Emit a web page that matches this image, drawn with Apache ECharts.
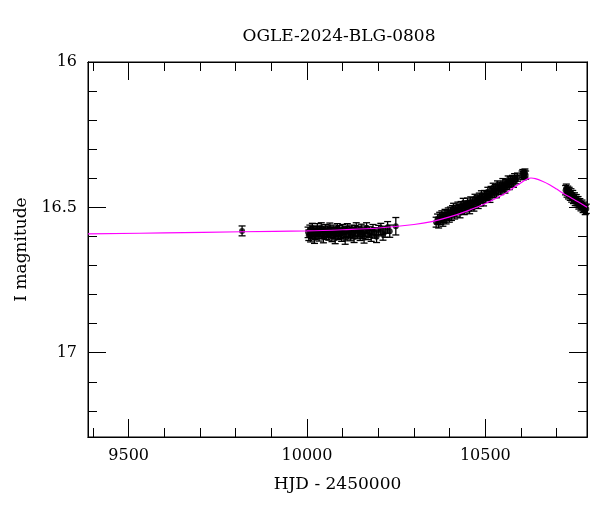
<!DOCTYPE html>
<html>
<head>
<meta charset="utf-8">
<script src="https://cdn.jsdelivr.net/npm/echarts@6/dist/echarts.min.js"></script>
<style>html,body{margin:0;padding:0;background:#fff}#c{width:600px;height:512px}</style>
</head>
<body>
<div id="c"></div>
<script>
const titleText = 'OGLE-2024-BLG-0808';
const xName = 'HJD - 2450000';
const yName = 'I magnitude';

const xMinorTicks = [9400,9500,9600,9700,9800,9900,10000,10100,10200,10300,10400,10500,10600,10700];
const xMajorTicks = [9500,10000,10500];
const yMinorTicks = [16.1,16.2,16.3,16.4,16.5,16.6,16.7,16.8,16.9,17.0,17.1,17.2];
const yMajorTicks = [16,16.5,17];

// isolated early point
const hjd0 = [9818];
const mag0 = [16.581];
const err0 = [0.017];

// 2023 season
const hjd1 = [10003,10005,10008,10010,10013,10015,10018,10021,10023,10026,10029,10031,10034,10037,10040,10043,10046,10049,10052,10055,10058,10061,10064,10067,10070,10073,10076,10079,10082,10085,10088,10091,10094,10097,10100,10104,10107,10110,10113,10116,10119,10122,10125,10129,10132,10135,10138,10142,10145,10149,10152,10156,10160,10163,10167,10171,10175,10180,10185,10190,10195,10201,10207,10213,10219,10226,10232,10249];
const mag1 = [16.586,16.596,16.578,16.601,16.590,16.572,16.584,16.605,16.593,16.581,16.574,16.590,16.598,16.583,16.570,16.589,16.603,16.585,16.576,16.592,16.582,16.595,16.571,16.587,16.600,16.579,16.588,16.606,16.584,16.574,16.593,16.580,16.589,16.599,16.577,16.586,16.608,16.583,16.573,16.591,16.585,16.597,16.578,16.588,16.602,16.581,16.570,16.590,16.583,16.596,16.576,16.589,16.604,16.582,16.571,16.593,16.585,16.598,16.577,16.588,16.601,16.580,16.574,16.592,16.584,16.569,16.582,16.565];
const err1 = [0.018,0.018,0.017,0.018,0.018,0.017,0.018,0.019,0.018,0.017,0.018,0.018,0.018,0.017,0.017,0.018,0.019,0.018,0.017,0.018,0.018,0.018,0.017,0.018,0.018,0.018,0.018,0.019,0.017,0.018,0.018,0.017,0.018,0.018,0.018,0.018,0.019,0.018,0.017,0.018,0.018,0.018,0.017,0.018,0.019,0.018,0.017,0.018,0.018,0.018,0.018,0.018,0.019,0.018,0.018,0.018,0.018,0.019,0.018,0.018,0.020,0.018,0.019,0.021,0.019,0.020,0.021,0.030];

// 2024 season
const hjd2 = [10362,10366,10369,10372,10375,10378,10381,10384,10387,10390,10393,10396,10399,10402,10405,10408,10411,10414,10417,10420,10423,10426,10429,10432,10435,10438,10441,10444,10447,10450,10453,10456,10459,10462,10465,10468,10471,10474,10477,10480,10483,10486,10489,10492,10495,10498,10501,10504,10507,10510,10513,10516,10519,10522,10525,10528,10531,10534,10537,10540,10543,10546,10549,10552,10555,10558,10561,10564,10567,10570,10573,10576,10579,10582,10586,10590,10603,10605,10607,10609,10611,10613];
const mag2 = [16.551,16.540,16.553,16.534,16.542,16.529,16.547,16.535,16.524,16.540,16.527,16.518,16.534,16.516,16.528,16.510,16.503,16.523,16.509,16.516,16.498,16.507,16.519,16.496,16.504,16.486,16.509,16.494,16.500,16.484,16.495,16.506,16.480,16.492,16.483,16.497,16.470,16.482,16.475,16.488,16.466,16.479,16.458,16.470,16.480,16.457,16.468,16.460,16.446,16.461,16.468,16.443,16.449,16.432,16.451,16.437,16.453,16.424,16.440,16.427,16.442,16.430,16.415,16.433,16.437,16.418,16.423,16.406,16.425,16.408,16.415,16.404,16.417,16.398,16.405,16.396,16.389,16.384,16.391,16.386,16.382,16.389];
const err2 = [0.017,0.017,0.018,0.017,0.017,0.017,0.018,0.017,0.017,0.017,0.017,0.016,0.017,0.017,0.017,0.016,0.017,0.017,0.016,0.017,0.016,0.016,0.017,0.016,0.016,0.017,0.016,0.016,0.016,0.016,0.016,0.016,0.016,0.016,0.016,0.016,0.015,0.016,0.015,0.016,0.015,0.016,0.015,0.015,0.015,0.015,0.015,0.015,0.015,0.015,0.015,0.015,0.015,0.015,0.015,0.015,0.014,0.015,0.014,0.014,0.014,0.014,0.014,0.014,0.014,0.014,0.014,0.014,0.014,0.014,0.014,0.014,0.014,0.014,0.014,0.014,0.014,0.014,0.014,0.014,0.014,0.014];

// 2025 season
const hjd3 = [10725,10727,10729,10731,10733,10735,10738,10740,10742,10745,10747,10750,10752,10755,10757,10760,10762,10765,10768,10771,10774,10777,10780,10783];
const mag3 = [16.441,16.436,16.449,16.443,16.455,16.447,16.460,16.452,16.466,16.458,16.471,16.466,16.478,16.472,16.484,16.479,16.490,16.486,16.496,16.491,16.502,16.498,16.509,16.505];
const err3 = [0.016,0.016,0.016,0.016,0.016,0.016,0.016,0.016,0.016,0.016,0.016,0.016,0.016,0.016,0.016,0.016,0.016,0.016,0.016,0.016,0.016,0.016,0.016,0.016];

// model curve
const modelHjd = [9386,9600,9818,10000,10100,10200,10300,10350,10400,10450,10500,10550,10580,10600,10615,10628,10640,10660,10680,10700,10720,10740,10760,10785];
const modelMag = [16.591,16.588,16.584,16.581,16.577,16.571,16.559,16.549,16.533,16.512,16.487,16.456,16.432,16.415,16.404,16.399,16.401,16.410,16.422,16.437,16.453,16.467,16.481,16.500];

const serif = 'DejaVu Serif';

function pts(h, m, e) { return h.map((t, i) => [t, m[i], e[i]]); }
const obs = [].concat(pts(hjd0, mag0, err0), pts(hjd1, mag1, err1), pts(hjd2, mag2, err2), pts(hjd3, mag3, err3));
const model = modelHjd.map((t, i) => [t, modelMag[i]]);

const xBase = {type: 'value', min: 9386, max: 10785, splitLine: {show: false}, axisLine: {show: true, onZero: false, lineStyle: {color: '#000', width: 1}}};
const yBase = {type: 'value', min: 16, max: 17.29, inverse: true, splitLine: {show: false}, axisLine: {show: true, onZero: false, lineStyle: {color: '#000', width: 1}}};

function xAx(pos, ticks, len, labels) {
  return Object.assign({}, xBase, {
    position: pos,
    axisTick: {show: true, inside: true, length: len, customValues: ticks, lineStyle: {color: '#000', width: 1}},
    axisLabel: labels ? {show: true, customValues: labels, margin: 11, color: '#000', fontFamily: serif, fontSize: 16, formatter: v => String(v)} : {show: false},
    name: labels ? xName : '',
    nameLocation: 'middle', nameGap: 39,
    nameTextStyle: {color: '#000', fontFamily: serif, fontSize: 17}
  });
}
function yAx(pos, ticks, len, labels) {
  return Object.assign({}, yBase, {
    position: pos,
    axisTick: {show: true, inside: true, length: len, customValues: ticks, lineStyle: {color: '#000', width: 1}},
    axisLabel: labels ? {show: true, customValues: labels, margin: 11, color: '#000', fontFamily: serif, fontSize: 16, formatter: v => String(v)} : {show: false},
    name: labels ? yName : '',
    nameLocation: 'middle', nameGap: 58,
    nameTextStyle: {color: '#000', fontFamily: serif, fontSize: 17}
  });
}

const chart = echarts.init(document.getElementById('c'), null, {renderer: 'canvas'});
chart.setOption({
  animation: false,
  backgroundColor: '#fff',
  title: {text: titleText, left: 334, top: 23, textAlign: 'center',
    textStyle: {fontFamily: serif, fontSize: 17, fontWeight: 'normal', color: '#000'}},
  grid: {left: 88, right: 13, top: 62, bottom: 75, show: true, borderColor: '#000', borderWidth: 1, outerBoundsMode: 'none'},
  xAxis: [
    xAx('bottom', xMinorTicks, 9, xMajorTicks),
    xAx('bottom', xMajorTicks, 18, null),
    xAx('top', xMinorTicks, 9, null),
    xAx('top', xMajorTicks, 18, null)
  ],
  yAxis: [
    yAx('left', yMinorTicks, 9, yMajorTicks),
    yAx('left', yMajorTicks, 18, null),
    yAx('right', yMinorTicks, 9, null),
    yAx('right', yMajorTicks, 18, null)
  ],
  series: [
    {
      type: 'custom', xAxisIndex: 0, yAxisIndex: 0, z: 2,
      data: obs,
      renderItem: function (params, api) {
        const t = api.value(0), m = api.value(1), e = api.value(2);
        const a = api.coord([t, m - e]);
        const b = api.coord([t, m + e]);
        const w = 3.5;
        const st = {stroke: '#000', lineWidth: 1.3};
        return {type: 'group', children: [
          {type: 'line', shape: {x1: a[0], y1: a[1], x2: b[0], y2: b[1]}, style: st},
          {type: 'line', shape: {x1: a[0] - w, y1: a[1], x2: a[0] + w, y2: a[1]}, style: st},
          {type: 'line', shape: {x1: b[0] - w, y1: b[1], x2: b[0] + w, y2: b[1]}, style: st}
        ]};
      }
    },
    {
      type: 'scatter', xAxisIndex: 0, yAxisIndex: 0, z: 3,
      data: obs.map(p => [p[0], p[1]]),
      symbol: 'circle', symbolSize: 6,
      itemStyle: {color: '#000'}
    },
    {
      type: 'line', xAxisIndex: 0, yAxisIndex: 0, z: 4,
      data: model, smooth: 0.4, showSymbol: false,
      lineStyle: {color: '#ff00ff', width: 1.2}
    }
  ]
});
</script>
</body>
</html>
